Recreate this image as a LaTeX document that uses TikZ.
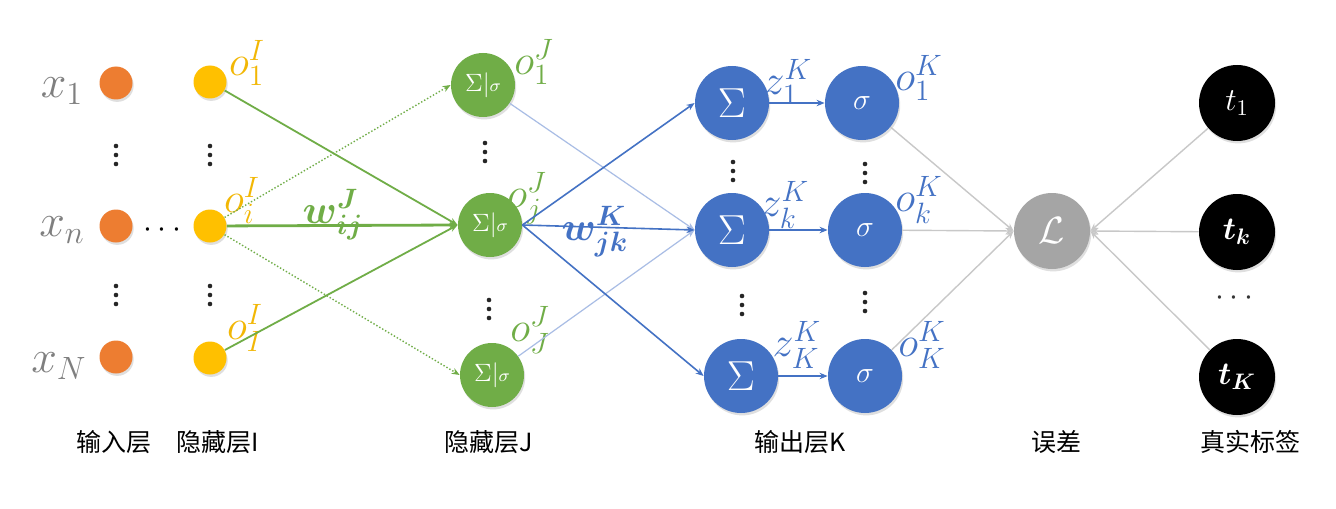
\RequirePackage{fix-cm}
\documentclass[tikz,border=0pt]{standalone}
\usepackage{amsmath,bm}
\usepackage{fontspec}
\newfontfamily\cjk{Noto Sans CJK SC}
\usetikzlibrary{arrows.meta,shadows}
\definecolor{corange}{HTML}{ED7D31}
\definecolor{cyellow}{HTML}{FFC000}
\definecolor{cgold}{HTML}{F2B705}
\definecolor{cgreen}{HTML}{70AD47}
\definecolor{cblue}{HTML}{4472C4}
\definecolor{clblue}{HTML}{A9BDE5}
\definecolor{cgrayn}{HTML}{A5A5A5}
\definecolor{cgrayl}{HTML}{C8C8C8}
\definecolor{cxlab}{HTML}{7F7F7F}
\begin{document}
\begin{tikzpicture}[x=0.5pt,y=-0.5pt,
  shad/.style={drop shadow={opacity=0.25,shadow xshift=0.6pt,shadow yshift=-1.2pt}},
  smallnode/.style={circle,inner sep=0pt,minimum size=16.5pt,shad},
  innode/.style={smallnode,fill=corange},
  hinode/.style={smallnode,fill=cyellow},
  gnode/.style={circle,inner sep=0pt,minimum size=32pt,fill=cgreen,text=white,font=\fontsize{12.5}{14}\selectfont,shad},
  bnode/.style={circle,inner sep=0pt,minimum size=37pt,fill=cblue,text=white,shad},
  lnode/.style={circle,inner sep=0pt,minimum size=38pt,fill=cgrayn,text=white,font=\fontsize{19}{22}\selectfont,shad},
  tnode/.style={circle,inner sep=0pt,minimum size=38pt,fill=black,text=white,font=\fontsize{16}{18}\selectfont,shad},
  xlab/.style={text=cxlab,inner sep=0pt,font=\fontsize{23}{26}\selectfont},
  olabI/.style={text=cgold,inner sep=0pt,font=\fontsize{21}{24}\selectfont},
  olabJ/.style={text=cgreen,inner sep=0pt,font=\fontsize{21}{24}\selectfont},
  olabK/.style={text=cblue,inner sep=0pt,font=\fontsize{21}{24}\selectfont},
  vd/.pic={\fill[black!85] (0,-9) circle (2.3) (0,0) circle (2.3) (0,9) circle (2.3);},
  layerlab/.style={inner sep=0pt,text=black,font=\cjk\fontsize{12.5}{14}\selectfont},
  tip/.style={-{Stealth[length=4pt,width=3.2pt]}},
  gsolid/.style={tip,draw=cgreen,line width=0.9pt},
  gdot/.style={tip,draw=cgreen,line width=0.7pt,densely dotted},
  bsolid/.style={tip,draw=cblue,line width=0.8pt},
  blight/.style={tip,draw=clblue,line width=0.6pt},
  glight/.style={draw=cgrayl,line width=0.7pt},
]
\useasboundingbox[fill=white] (0,0) rectangle (1336,508);

% input layer
\node[innode] (x1) at (116,83) {};
\node[innode] (xn) at (116,226) {};
\node[innode] (xN) at (116,357) {};
\node[xlab] (lx1) at (62,91) {$x_1$};
\node[xlab] (lxn) at (62,230) {$x_n$};
\node[xlab] (lxN) at (59,366) {$x_N$};
\pic at (116,155) {vd};
\pic at (116,295) {vd};
\node[inner sep=0pt,font=\fontsize{16}{18}\selectfont] (hx) at (165,230) {$\cdots$};

% hidden I
\node[hinode] (y1) at (210,82) {};
\node[hinode] (yi) at (210,226) {};
\node[hinode] (yI) at (210,358) {};
\pic at (210,155) {vd};
\pic at (210,295) {vd};
\node[olabI] (lo1) at (247,63) {$o_1^I$};
\node[olabI] (loi) at (242,200) {$o_i^I$};
\node[olabI] (loI) at (245,328) {$o_I^I$};

% hidden J
\node[gnode] (g1) at (483,85) {$\Sigma|{\scriptstyle\sigma}$};
\node[gnode] (gj) at (490,225) {$\Sigma|{\scriptstyle\sigma}$};
\node[gnode] (gJ) at (492,375) {$\Sigma|{\scriptstyle\sigma}$};
\pic at (485,152) {vd};
\pic at (489,309) {vd};
\node[olabJ] (lj1) at (534,62) {$o_1^J$};
\node[olabJ] (ljj) at (527,198) {$o_j^J$};
\node[olabJ] (ljJ) at (530,330) {$o_J^J$};

% output K
\node[bnode,font=\fontsize{21}{24}\selectfont] (s1) at (732,103) {$\Sigma$};
\node[bnode,font=\fontsize{21}{24}\selectfont] (sk) at (732,230) {$\Sigma$};
\node[bnode,font=\fontsize{21}{24}\selectfont] (sK) at (741,376) {$\Sigma$};
\node[bnode,font=\fontsize{15}{18}\selectfont] (a1) at (862,103) {$\sigma$};
\node[bnode,font=\fontsize{15}{18}\selectfont] (ak) at (865,230) {$\sigma$};
\node[bnode,font=\fontsize{15}{18}\selectfont] (aK) at (865,376) {$\sigma$};
\pic at (733,171) {vd};
\pic at (742,305) {vd};
\pic at (865,173) {vd};
\pic at (865,302) {vd};
\node[olabK] (lz1) at (788,82) {$z_1^K$};
\node[olabK] (lzk) at (785,205) {$z_k^K$};
\node[olabK] (lzK) at (797,345) {$z_K^K$};
\node[olabK] (lk1) at (919,78) {$o_1^K$};
\node[olabK] (lkk) at (919,200) {$o_k^K$};
\node[olabK] (lkK) at (922,345) {$o_K^K$};

% loss and targets
\node[lnode] (L) at (1052,231) {$\mathcal{L}$};
\node[tnode] (t1) at (1237,103) {$t_1$};
\node[tnode] (tk) at (1237,232) {$\bm{t_k}$};
\node[tnode] (tK) at (1237,377) {$\bm{t_K}$};
\node[inner sep=0pt,text=black!80,font=\fontsize{16}{18}\selectfont] (ht) at (1237,298) {$\cdots$};

% connectors I -> J
\draw[gdot] (yi) -- (g1.west);
\draw[gdot] (yi) -- (gJ.west);
\draw[gsolid] (y1) -- (gj.west);
\draw[gsolid] (yI) -- (gj.west);
\draw[gsolid,line width=1.4pt] (yi) -- (gj.west);
\node[inner sep=0pt,text=cgreen,font=\fontsize{20}{24}\selectfont] (wij) at (333,215) {$\bm{w_{ij}^J}$};

% connectors J -> K
\draw[blight] (g1) -- (sk.west);
\draw[blight] (gJ) -- (sk.west);
\draw[bsolid] (gj.east) -- (s1.west);
\draw[bsolid] (gj.east) -- (sk.west);
\draw[bsolid] (gj.east) -- (sK.west);
\node[inner sep=0pt,text=cblue,font=\fontsize{20}{24}\selectfont] (wjk) at (595,232) {$\bm{w_{jk}^K}$};

% sum -> sigma
\draw[bsolid] (s1) -- (a1);
\draw[bsolid] (sk) -- (ak);
\draw[bsolid] (sK) -- (aK);

% sigma -> loss, targets -> loss
\draw[glight,tip] (a1) -- (L.west);
\draw[glight,tip] (ak) -- (L.west);
\draw[glight,tip] (aK) -- (L.west);
\draw[glight,tip] (t1) -- (L.east);
\draw[glight,tip] (tk) -- (L.east);
\draw[glight,tip] (tK) -- (L.east);

% layer labels
\node[layerlab] (n1) at (114,442) {输入层};
\node[layerlab] (n2) at (218,442) {隐藏层I};
\node[layerlab] (n3) at (489,442) {隐藏层J};
\node[layerlab] (n4) at (800,442) {输出层K};
\node[layerlab] (n5) at (1056,442) {误差};
\node[layerlab] (n6) at (1250,442) {真实标签};
\end{tikzpicture}
\end{document}
